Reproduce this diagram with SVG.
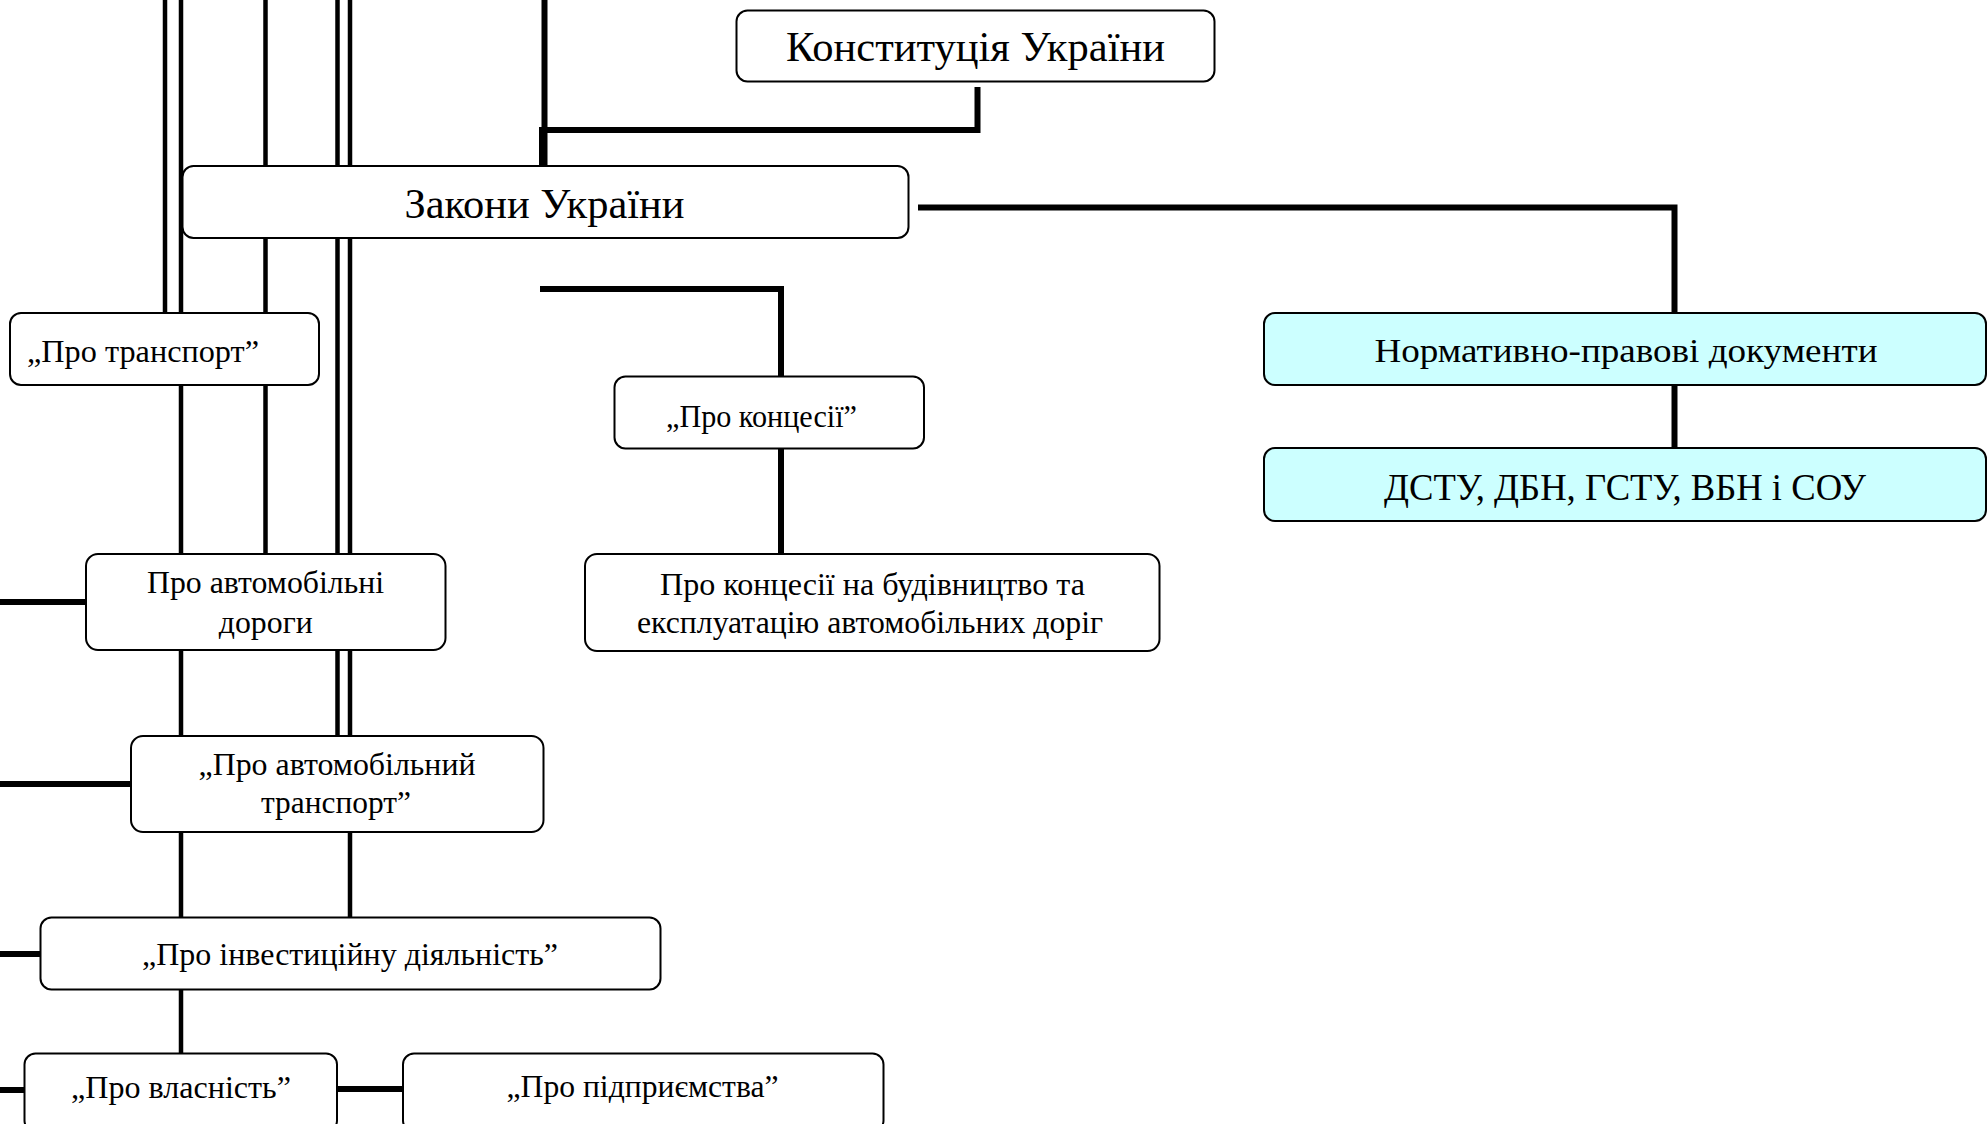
<svg xmlns="http://www.w3.org/2000/svg" width="1988" height="1124" viewBox="0 0 1988 1124">
<style>
.box{fill:#ffffff;stroke:#000000;stroke-width:2}
.cyan{fill:#ccffff;stroke:#000000;stroke-width:2}
.ln{fill:none;stroke:#000000;stroke-width:4.5}
.cn{fill:none;stroke:#000000;stroke-width:6}
text{font-family:"Liberation Serif","Times New Roman",serif;fill:#000000;text-anchor:middle}
.big{font-size:42px}
.sm{font-size:32px}
.mid{font-size:33px}
.dstu{font-size:38px}
</style>
<rect width="1988" height="1124" fill="#ffffff"/>
<g id="connectors">
<line class="ln" x1="165" y1="0" x2="165" y2="313"/>
<line class="ln" x1="181" y1="0" x2="181" y2="1053"/>
<line class="ln" x1="265.5" y1="0" x2="265.5" y2="554"/>
<line class="ln" x1="337.5" y1="0" x2="337.5" y2="736"/>
<line class="ln" x1="350" y1="0" x2="350" y2="917"/>
<line class="cn" x1="544.5" y1="0" x2="544.5" y2="166"/>
<line class="cn" x1="0" y1="602" x2="86" y2="602"/>
<line class="cn" x1="0" y1="784" x2="131" y2="784"/>
<line class="cn" x1="0" y1="954" x2="40" y2="954"/>
<line class="cn" x1="0" y1="1090" x2="25" y2="1090"/>
<line class="cn" x1="337" y1="1089" x2="403" y2="1089"/>
<path class="cn" d="M977.5,87 V130 H542 V166"/>
<path class="cn" d="M918,207.5 H1674.5 V313"/>
<line class="cn" x1="1674.5" y1="385" x2="1674.5" y2="448"/>
<path class="cn" d="M540,289 H781 V376"/>
<line class="cn" x1="781" y1="449" x2="781" y2="554"/>
</g>
<g id="konstytutsiia">
<rect class="box" x="736.5" y="10.5" width="478" height="71" rx="11"/>
<text class="big" x="975.5" y="61" textLength="379" lengthAdjust="spacingAndGlyphs">Конституція України</text>
</g>
<g id="zakony">
<rect class="box" x="182.5" y="166" width="726" height="72" rx="11"/>
<text class="big" x="544.5" y="218" textLength="280" lengthAdjust="spacingAndGlyphs">Закони України</text>
</g>
<g id="pro-transport">
<rect class="box" x="10" y="313" width="309" height="72" rx="11"/>
<text class="sm" x="27" y="362" textLength="232" lengthAdjust="spacingAndGlyphs" style="text-anchor:start">„Про транспорт”</text>
</g>
<g id="normatyvno">
<rect class="cyan" x="1264" y="313" width="722" height="72" rx="11"/>
<text class="mid" x="1626" y="362" textLength="503" lengthAdjust="spacingAndGlyphs">Нормативно-правові документи</text>
</g>
<g id="dstu">
<rect class="cyan" x="1264" y="448" width="722" height="73" rx="11"/>
<text class="dstu" x="1625" y="500" textLength="482" lengthAdjust="spacingAndGlyphs">ДСТУ, ДБН, ГСТУ, ВБН і СОУ</text>
</g>
<g id="pro-kontsesii">
<rect class="box" x="614.5" y="376.5" width="309.5" height="72" rx="11"/>
<text class="sm" x="761.5" y="427" textLength="191" lengthAdjust="spacingAndGlyphs">„Про концесії”</text>
</g>
<g id="pro-kontsesii-dorih">
<rect class="box" x="585" y="554" width="574.5" height="97" rx="12"/>
<text class="sm" x="872.5" y="595" textLength="425" lengthAdjust="spacingAndGlyphs">Про концесії на будівництво та</text>
<text class="sm" x="870" y="633" textLength="466" lengthAdjust="spacingAndGlyphs">експлуатацію автомобільних доріг</text>
</g>
<g id="pro-avtodorohy">
<rect class="box" x="86" y="554" width="359.5" height="96" rx="12"/>
<text class="sm" x="265.5" y="593" textLength="237" lengthAdjust="spacingAndGlyphs">Про автомобільні</text>
<text class="sm" x="265.75" y="633" textLength="94" lengthAdjust="spacingAndGlyphs">дороги</text>
</g>
<g id="pro-avtotransport">
<rect class="box" x="131" y="736" width="412.5" height="96" rx="12"/>
<text class="sm" x="337" y="775" textLength="277" lengthAdjust="spacingAndGlyphs">„Про автомобільний</text>
<text class="sm" x="336" y="813" textLength="150" lengthAdjust="spacingAndGlyphs">транспорт”</text>
</g>
<g id="pro-investytsiinu">
<rect class="box" x="40.5" y="917.5" width="620" height="72" rx="11"/>
<text class="sm" x="350" y="965" textLength="416" lengthAdjust="spacingAndGlyphs">„Про інвестиційну діяльність”</text>
</g>
<g id="pro-vlasnist">
<rect class="box" x="24.5" y="1053.5" width="312.5" height="78" rx="11"/>
<text class="sm" x="181" y="1098" textLength="220" lengthAdjust="spacingAndGlyphs">„Про власність”</text>
</g>
<g id="pro-pidpryiemstva">
<rect class="box" x="403" y="1053.5" width="480.5" height="78" rx="11"/>
<text class="sm" x="642.5" y="1097" textLength="272" lengthAdjust="spacingAndGlyphs">„Про підприємства”</text>
</g>
</svg>
